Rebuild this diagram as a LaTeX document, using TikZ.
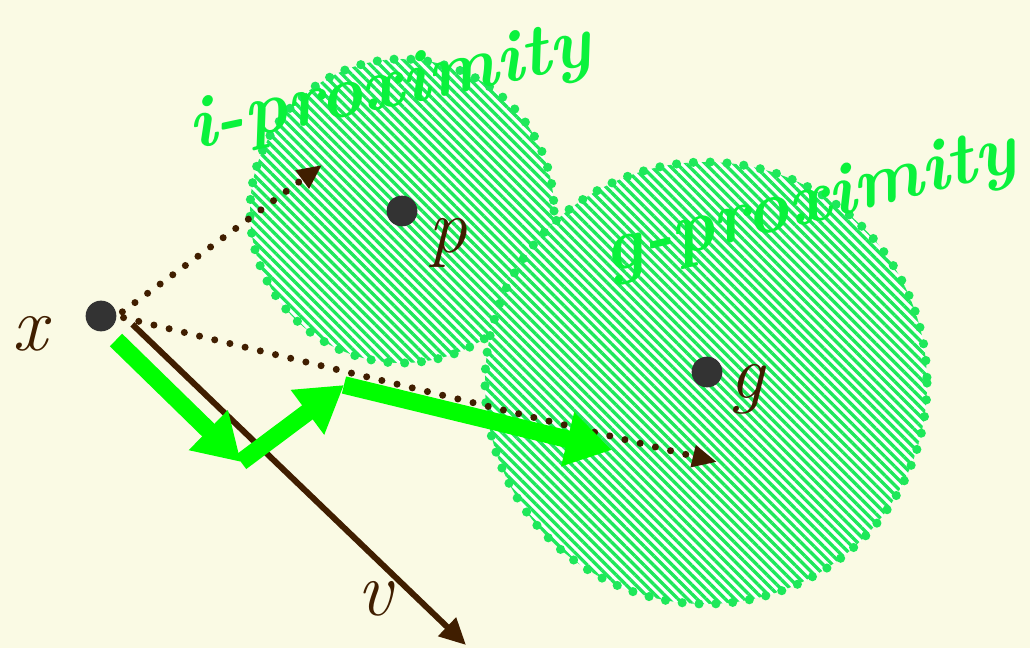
\documentclass[tikz,border=0pt]{standalone}
\usepackage{xcolor}
\usepackage{tikz}
\usetikzlibrary{arrows.meta,patterns.meta}

\definecolor{bgcream}{RGB}{250,250,228}
\definecolor{darkbrown}{RGB}{64,30,0}
\definecolor{hatchgreen}{RGB}{30,232,90}
\definecolor{pengreen}{RGB}{10,242,60}
\definecolor{pathgreen}{RGB}{0,255,0}
\definecolor{dotgray}{RGB}{51,51,51}

\begin{document}
\begin{tikzpicture}[x=0.02cm, y=-0.02cm,
    zone/.style={fill=white, postaction={pattern={Lines[angle=-45,distance=3.8pt,line width=1.9pt]}, pattern color=hatchgreen}},
    rim/.style={draw=hatchgreen, line width=5.2pt, line cap=round, dash pattern=on 0pt off 9.6pt},
    point/.style={circle, fill=dotgray, minimum size=17.5pt, inner sep=0pt},
    var/.style={text=darkbrown, font=\fontsize{44}{48}\selectfont\itshape, anchor=base, inner sep=0pt},
    hand/.style={text=pengreen, font=\fontsize{42}{46}\selectfont\bfseries\itshape},
    reach/.style={draw=darkbrown, line width=4pt, line cap=round, dash pattern=on 0pt off 8.9pt, -{Triangle[length=14pt,width=12pt]}},
    move/.style={draw=pathgreen, line width=10pt, -{Triangle[length=26pt,width=30pt]}},
    velocity/.style={draw=darkbrown, line width=3.4pt, -{Triangle[length=15pt,width=14pt]}}
]
\useasboundingbox (0,0) rectangle (1030,648);
\fill[bgcream] (0,0) rectangle (1030,648);

% proximity regions
\fill[zone] (402,211) circle [radius=152];
\draw[rim] (402,211) circle [radius=152];
\fill[zone] (706,383) circle [radius=221];
\draw[rim] (706,383) circle [radius=221];

\node[point] (x) at (101,316) {};
\node[point] (p) at (402,211) {};
\node[point] (g) at (707,372) {};

\coordinate (ptip) at (322,165);
\coordinate (gtip) at (717,462);
\coordinate (vtip) at (466,645);
\coordinate (m0) at (116,340);
\coordinate (m1) at (241,462);
\coordinate (m2) at (344,385);
\coordinate (m3) at (612,450);

\draw[velocity, shorten <=16pt] (x.north east) -- (vtip);
\draw[reach, shorten <=4pt] (x.east) -- (ptip);
\draw[reach, shorten <=4pt] (x.east) -- (gtip);

\draw[move] (m0) -- (m1);
\draw[move] (m1) -- (m2);
\draw[move] (m2) -- (m3);

\node[var] (xlab) at (30,350) {x};
\node[var] (plab) at (448,253) {p};
\node[var] (glab) at (747,398) {g};
\node[var] (vlab) at (375,615) {v};

\node[hand, rotate=12] (ilab) at (390,90) {i-proximity};
\node[hand, rotate=14] (glab2) at (810,205) {g-proximity};
\end{tikzpicture}
\end{document}
